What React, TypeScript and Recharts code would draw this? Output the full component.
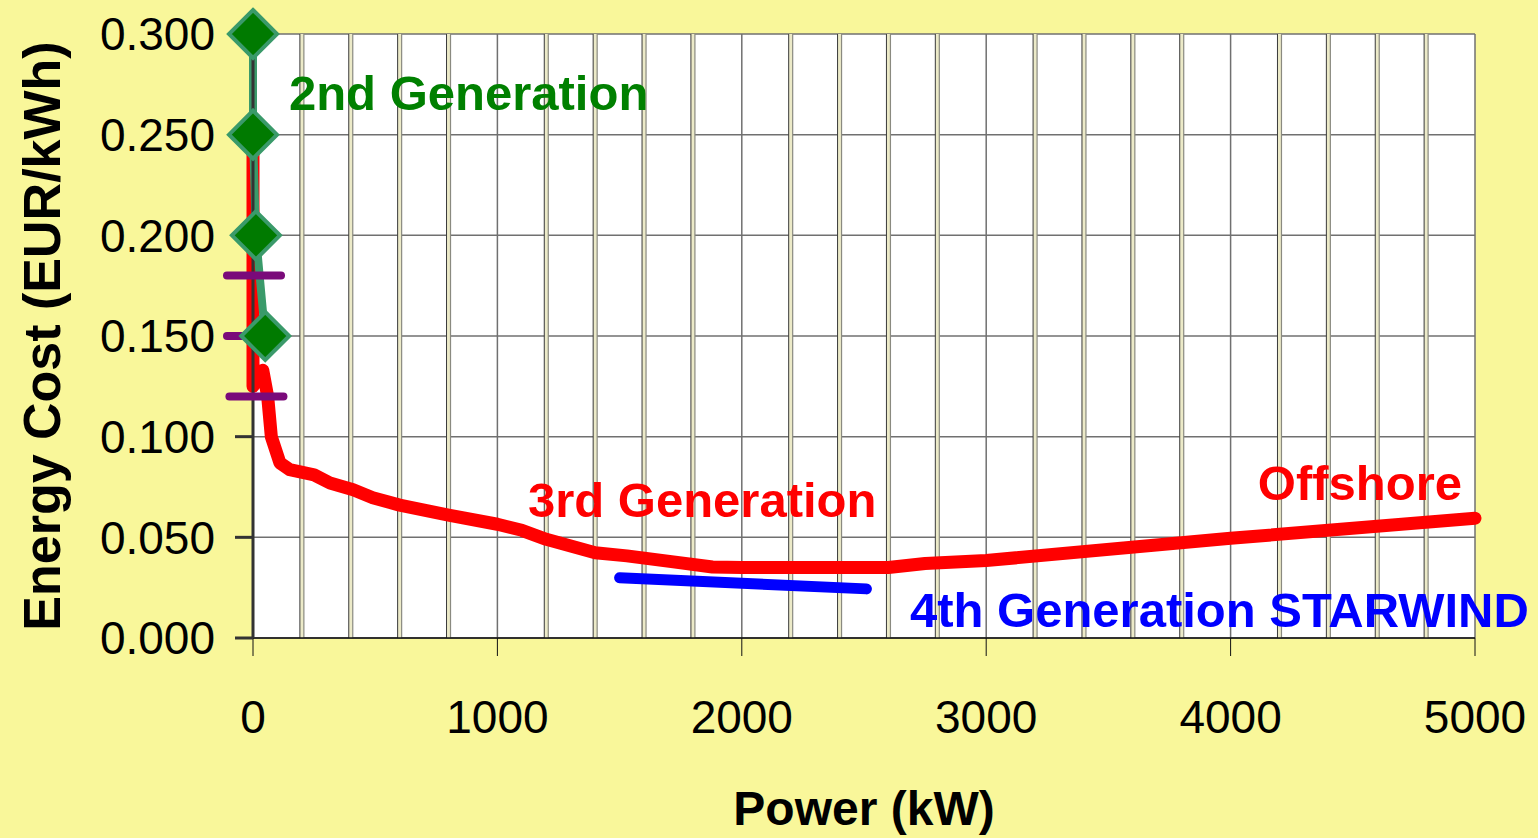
import { ComposedChart, Line, Scatter, XAxis, YAxis, CartesianGrid, ReferenceLine, ReferenceDot } from 'recharts'

// axis ticks
const powerTicks = [0, 1000, 2000, 3000, 4000, 5000]
const costTicks = [0, 0.05, 0.1, 0.15, 0.2, 0.25, 0.3]
// the thin doubled grid lines between the labelled ticks
const minorGrid = [200, 400, 600, 800, 1200, 1400, 1600, 1800, 2200, 2400, 2600, 2800, 3200, 3400, 3600, 3800, 4200, 4400, 4600, 4800]

// 2nd generation turbines (diamonds)
const secondGen = [
  { x: 0, y: 0.3 },
  { x: 0, y: 0.25 },
  { x: 12, y: 0.2 },
  { x: 50, y: 0.15 },
]

// purple range marks
const rangeMarks = [
  { x: 0, y: 0.18 },
  { x: 0, y: 0.15 },
  { x: 10, y: 0.12 },
]

// 3rd generation -> offshore curve
const thirdGen = [
  { x: 0, y: 0.25 },
  { x: 0, y: 0.125 },
  { x: 40, y: 0.133 },
  { x: 60, y: 0.12 },
  { x: 75, y: 0.1 },
  { x: 110, y: 0.087 },
  { x: 150, y: 0.0836 },
  { x: 250, y: 0.081 },
  { x: 315, y: 0.077 },
  { x: 410, y: 0.0736 },
  { x: 490, y: 0.0697 },
  { x: 600, y: 0.066 },
  { x: 800, y: 0.061 },
  { x: 1000, y: 0.0565 },
  { x: 1100, y: 0.0535 },
  { x: 1200, y: 0.049 },
  { x: 1400, y: 0.0423 },
  { x: 1530, y: 0.0408 },
  { x: 1720, y: 0.0378 },
  { x: 1880, y: 0.0353 },
  { x: 2000, y: 0.035 },
  { x: 2300, y: 0.035 },
  { x: 2600, y: 0.035 },
  { x: 2750, y: 0.037 },
  { x: 3000, y: 0.0385 },
  { x: 4000, y: 0.0495 },
  { x: 5000, y: 0.0595 },
]

// 4th generation STARWIND
const starwind = [
  { x: 1500, y: 0.0299 },
  { x: 2510, y: 0.0244 },
]

const FONT = '"Liberation Sans", Arial, sans-serif'
const BG = '#F9F79A'

const Diamond = (props: any) => {
  const { cx, cy } = props
  const r = 24
  return (
    <polygon
      points={`${cx},${cy - r} ${cx + r},${cy} ${cx},${cy + r} ${cx - r},${cy}`}
      style={{ fill: '#007A00', stroke: '#3A9A6A', strokeWidth: 4 }}
    />
  )
}

const Dash = (props: any) => {
  const { cx, cy } = props
  return (
    <line
      x1={cx - 26}
      x2={cx + 28}
      y1={cy}
      y2={cy}
      style={{ stroke: '#7A0A7A', strokeWidth: 8, strokeLinecap: 'round' }}
    />
  )
}

const DoubleLine = (props: any) => {
  const { x1, y1, y2 } = props
  return (
    <g>
      <rect x={x1 - 2} y={Math.min(y1, y2)} width={4} height={Math.abs(y2 - y1)} fill="#ECEAC8" />
      <line x1={x1 - 2} x2={x1 - 2} y1={y1} y2={y2} stroke="#3A3A3A" strokeWidth={1} />
      <line x1={x1 + 2} x2={x1 + 2} y1={y1} y2={y2} stroke="#8A8A80" strokeWidth={1.2} />
    </g>
  )
}

const note = (text: string, color: string, anchor: 'start' | 'end' = 'start') => (props: any) => (
  <text
    x={props.cx}
    y={props.cy}
    textAnchor={anchor}
    fill={color}
    fontFamily={FONT}
    fontWeight="bold"
    fontSize={49}
  >
    {text}
  </text>
)

export default function App() {
  return (
    <div style={{ position: 'absolute', left: 0, top: 0, width: 1538, height: 838, background: BG }}>
      <ComposedChart width={1538} height={838} margin={{ top: 34, right: 63, bottom: 0, left: 0 }}>
        <CartesianGrid fill="#FFFFFF" stroke="#707070" strokeWidth={1.5} />
        <XAxis
          type="number"
          dataKey="x"
          domain={[0, 5000]}
          ticks={powerTicks}
          height={200}
          tickSize={18}
          tickMargin={44}
          axisLine={{ stroke: '#111', strokeWidth: 1.5 }}
          tickLine={{ stroke: '#111', strokeWidth: 1 }}
          tick={{ fill: '#000', fontSize: 46, fontFamily: FONT }}
          label={{
            content: (p: any) => (
              <text
                x={p.viewBox.x + p.viewBox.width / 2}
                y={p.viewBox.y + 187}
                textAnchor="middle"
                fontFamily={FONT}
                fontWeight="bold"
                fontSize={48}
                fill="#000"
              >
                Power (kW)
              </text>
            ),
          }}
        />
        <YAxis
          type="number"
          dataKey="y"
          domain={[0, 0.3]}
          ticks={costTicks}
          width={253}
          tickSize={18}
          tickMargin={20}
          tickFormatter={(v: number) => v.toFixed(3)}
          axisLine={{ stroke: '#333', strokeWidth: 3 }}
          tickLine={{ stroke: '#333', strokeWidth: 3 }}
          tick={{ fill: '#000', fontSize: 46, fontFamily: FONT }}
          label={{
            content: (p: any) => {
              const cx = 42
              const cy = p.viewBox.y + p.viewBox.height / 2
              return (
                <text
                  x={cx}
                  y={cy}
                  transform={`rotate(-90, ${cx}, ${cy})`}
                  textAnchor="middle"
                  dominantBaseline="central"
                  fontFamily={FONT}
                  fontWeight="bold"
                  fontSize={52}
                  fill="#000"
                >
                  Energy Cost (EUR/kWh)
                </text>
              )
            },
          }}
        />
        {minorGrid.map((v) => (
          <ReferenceLine key={v} x={v} shape={DoubleLine} zIndex={-50} />
        ))}
        <Line
          data={thirdGen}
          dataKey="y"
          type="linear"
          stroke="#FF0000"
          strokeWidth={13}
          strokeLinecap="round"
          strokeLinejoin="round"
          dot={false}
          isAnimationActive={false}
        />
        <Line
          data={starwind}
          dataKey="y"
          type="linear"
          stroke="#0000FF"
          strokeWidth={11}
          strokeLinecap="round"
          dot={false}
          isAnimationActive={false}
        />
        <Line
          data={secondGen}
          dataKey="y"
          type="linear"
          stroke="#3A9A6A"
          strokeWidth={8}
          dot={false}
          isAnimationActive={false}
        />
        <Scatter data={rangeMarks} dataKey="y" shape={Dash} isAnimationActive={false} />
        <Scatter data={secondGen} dataKey="y" shape={Diamond} isAnimationActive={false} />
        <ReferenceDot x={147} y={0.2623} r={0} shape={note('2nd Generation', '#008000')} />
        <ReferenceDot x={1125} y={0.0601} r={0} shape={note('3rd Generation', '#FF0000')} />
        <ReferenceDot x={4947} y={0.0685} r={0} shape={note('Offshore', '#FF0000', 'end')} />
        <ReferenceDot x={2688} y={0.0055} r={0} shape={note('4th Generation STARWIND', '#0000FF')} />
      </ComposedChart>
    </div>
  )
}
